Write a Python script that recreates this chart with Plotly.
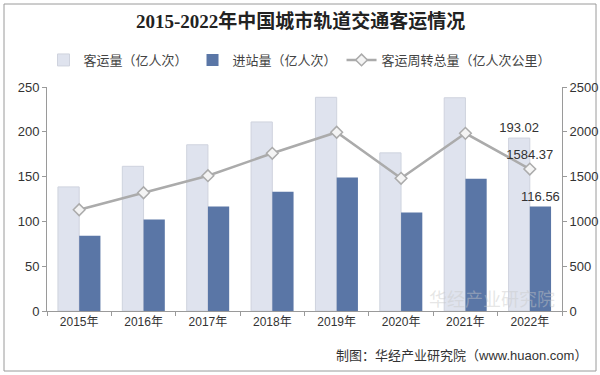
import plotly.graph_objects as go

years = ["2015年", "2016年", "2017年", "2018年", "2019年", "2020年", "2021年", "2022年"]
passenger = [138.5, 161.5, 185.5, 211.0, 238.5, 176.5, 238.0, 193.02]
entries = [84.0, 102.0, 116.5, 133.0, 149.0, 110.0, 147.5, 116.56]
turnover = [1130, 1320, 1510, 1760, 1995, 1481, 1983, 1584.37]

L, R, T, B = 47, 38, 87, 64
W, H = 600, 375
pw, ph = W - L - R, H - T - B

def px(x):
    return (x - L) / pw

def py(y):
    return (H - B - y) / ph

cjk = "Liberation Sans, Noto Sans CJK SC, sans-serif"

fig = go.Figure()
fig.add_trace(go.Bar(
    x=years, y=passenger, name="客运量（亿人次）",
    marker=dict(color="#dfe3ee", line=dict(color="#cfd3de", width=1)),
    text=[""] * 7 + ["193.02"], textposition="outside", constraintext="none",
    textfont=dict(size=13, color="#333333"), cliponaxis=False,
))
fig.add_trace(go.Bar(
    x=years, y=entries, name="进站量（亿人次）",
    marker=dict(color="#5a76a6", line=dict(width=0)),
    text=[""] * 7 + ["116.56"], textposition="outside", constraintext="none",
    textfont=dict(size=13, color="#333333"), cliponaxis=False,
))
fig.add_trace(go.Scatter(
    x=years, y=turnover, name="客运周转总量（亿人次公里）", yaxis="y2",
    mode="lines+markers+text",
    line=dict(color="#ababab", width=2.5),
    marker=dict(symbol="diamond", size=9, color="#f4f4f4", line=dict(color="#ababab", width=1.5)),
    text=[""] * 7 + ["1584.37"], textposition="top center",
    textfont=dict(size=13, color="#333333"), cliponaxis=False,
))

fig.update_layout(
    width=W, height=H,
    margin=dict(l=L, r=R, t=T, b=B, autoexpand=False),
    paper_bgcolor="white", plot_bgcolor="white",
    font=dict(family=cjk, size=12, color="#333333"),
    barmode="group", bargap=0.34, bargroupgap=0.0,
    showlegend=True,
    legend=dict(orientation="h", x=px(300), xanchor="center", y=py(60), yanchor="middle",
                font=dict(size=13, color="#444444"), itemwidth=30, traceorder="normal",
                bgcolor="rgba(0,0,0,0)"),
    xaxis=dict(showline=True, linecolor="#9a9a9a", linewidth=1, ticks="outside",
               tickcolor="#9a9a9a", ticklen=4, tickson="boundaries", showgrid=False,
               tickfont=dict(size=12, color="#333333"), automargin=False),
    yaxis=dict(range=[0, 250], dtick=50, showline=True, linecolor="#9a9a9a", linewidth=1,
               ticks="outside", tickcolor="#9a9a9a", ticklen=4, showgrid=False, zeroline=False,
               tickfont=dict(size=13, color="#333333"), automargin=False),
    yaxis2=dict(range=[0, 2500], dtick=500, overlaying="y", side="right", showline=True,
                linecolor="#9a9a9a", linewidth=1, ticks="outside", tickcolor="#9a9a9a",
                ticklen=4, showgrid=False, zeroline=False,
                tickfont=dict(size=13, color="#333333"), automargin=False),
    shapes=[dict(type="rect", xref="paper", yref="paper",
                 x0=px(4), x1=px(596), y0=py(371), y1=py(4),
                 line=dict(color="#9a9a9a", width=1), fillcolor="rgba(0,0,0,0)", layer="below")],
    annotations=[
        dict(text="<b>2015-2022年中国城市轨道交通客运情况</b>", xref="paper", yref="paper",
             x=px(300), y=py(21), xanchor="center", yanchor="middle", showarrow=False,
             font=dict(family="Liberation Serif, Noto Sans CJK SC, serif", size=19, color="#222222")),
        dict(text="制图：华经产业研究院（www.huaon.com）", xref="paper", yref="paper",
             x=px(589), y=py(355), xanchor="right", yanchor="middle", showarrow=False,
             font=dict(family=cjk, size=13, color="#333333")),
        dict(text="华经产业研究院", xref="paper", yref="paper",
             x=px(492), y=py(300), xanchor="center", yanchor="middle", showarrow=False,
             font=dict(family=cjk, size=18, color="rgba(200,200,200,0.45)")),
    ],
)

fig.write_html("out.html", config={"displayModeBar": False},
               post_script="document.body.style.margin='0';document.body.style.overflow='hidden';")
